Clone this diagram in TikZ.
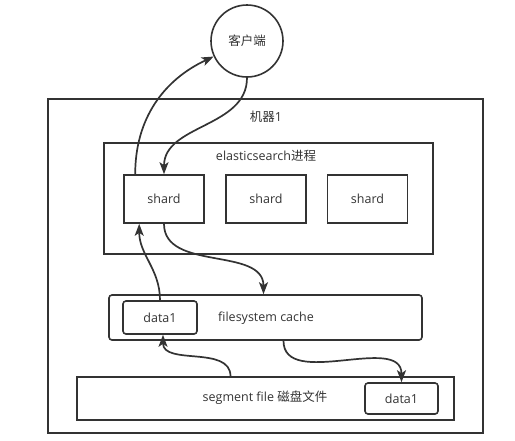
\documentclass[tikz,border=0pt]{standalone}
\usepackage{fontspec}
\setmainfont{Open Sans}
\newfontfamily\cjk{Noto Sans CJK SC}
\usetikzlibrary{shapes,arrows.meta,positioning}

\definecolor{ink}{HTML}{333333}

\begin{document}
\begin{tikzpicture}[x=1pt,y=-1pt,
  box/.style={draw=ink, line width=1.6pt, inner sep=0pt, text=ink, font=\fontsize{12.5}{14}\selectfont},
  rbox/.style={box, rounded corners=3pt},
  lbl/.style={text=ink, font=\fontsize{12.5}{14}\selectfont},
  flow/.style={draw=ink, line width=1.7pt, -{Stealth[length=12pt,width=9pt,inset=3pt]}}
]
\useasboundingbox (0,0) rectangle (515,440);

% Client
\node[box, circle, minimum size=72] (client) at (247,41) {\cjk 客户端};

% Machine and ES process
\node[box, minimum width=435, minimum height=334] (machine) at (265.5,266) {};
\node[lbl] at (266,117) {{\cjk 机器}1};
\node[box, minimum width=329, minimum height=111] (es) at (268.5,198.5) {};
\node[lbl] at (266,156) {elasticsearch{\cjk 进程}};

% Shards
\node[box, minimum width=80, minimum height=48] (shardA) at (164,199) {shard};
\node[box, minimum width=80, minimum height=48] (shardB) at (266,199) {shard};
\node[box, minimum width=80, minimum height=48] (shardC) at (367.5,199) {shard};

% Filesystem cache
\node[rbox, minimum width=313, minimum height=45] (cache) at (265.5,317.5) {};
\node[rbox, minimum width=74, minimum height=33] (cachedata) at (160,317.5) {data1};
\node[lbl] at (266,318) {filesystem cache};

% Segment file on disk
\node[box, minimum width=377, minimum height=43] (segment) at (265.5,398.5) {};
\node[lbl] at (265,398) {segment file {\cjk 磁盘文件}};
\node[rbox, minimum width=73, minimum height=31] (segdata) at (401.5,398.5) {data1};

% Arrows
\draw[flow] ([xshift=12]shardA.north west) to[out=90,in=205] (client.205);
\draw[flow] (client.south) to[out=-90,in=90] (shardA.north);
\draw[flow] (shardA.south) to[out=-90,in=90] ([xshift=-2]cache.north);
\draw[flow] (cachedata.north) to[out=90,in=-90] ([xshift=16]shardA.south west);
\draw[flow] ([xshift=-35]segment.north) to[out=90,in=-90] ([xshift=3]cachedata.south);
\draw[flow] ([xshift=18]cache.south) to[out=-90,in=90] (segdata.north);

\end{tikzpicture}
\end{document}
